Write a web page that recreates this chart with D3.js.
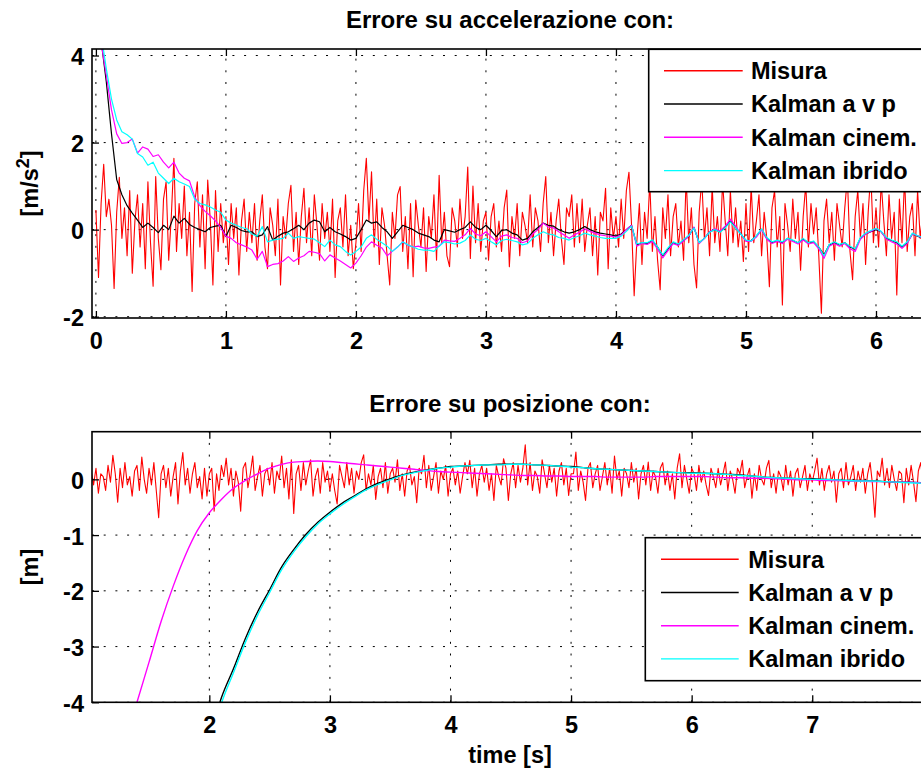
<!DOCTYPE html>
<html>
<head>
<meta charset="utf-8">
<script src="https://cdn.jsdelivr.net/npm/d3@7"></script>
<style>
  html, body { margin: 0; padding: 0; background: #fff; }
  text { font-family: "Liberation Sans", Arial, Helvetica, sans-serif; font-weight: bold; fill: #000; }
</style>
</head>
<body>
<svg id="fig" width="921" height="770"></svg>
<script>
// ---------------- Data ----------------
// Series names (legend order = drawing order)
const seriesNames = ["Misura", "Kalman a v p", "Kalman cinem.", "Kalman ibrido"];
const seriesColors = ["#ff0000", "#000000", "#ff00ff", "#00ffff"];

// Acceleration error: measurement sampled every 0.02 s from t = 0
const accMeasDt = 0.02;
const accMisura = [
  0.45, -1.1, 0.6, 1.5, 0.3, 0.7, 0.1, -1.35, 0.4, 1.2, -0.2, 0.5, -0.6, 0.9, -1.0, 0.2, 0.8, -0.4, 0.6, -0.9,
  1.1, -0.3, -1.3, 1.22, -0.2, -0.92, 0.7, 1.1, -0.7, 0.3, 1.64, -0.5, 0.6, -0.2, 1.0, -0.6, 0.4, -1.42, 0.6, 1.1,
  -0.4, 0.8, -0.9, 1.14, 0.2, -1.27, 0.9, -0.5, 0.6, -0.3,
  0.3, -0.8, 0.6, -0.2, 0.5, -1.04, 0.2, 0.7, -0.5, 0.4, -0.3, 0.6, -0.7, 0.2, 0.8, -0.4, -0.9, 0.5, 0.1, -0.6,
  0.7, -1.27, 0.3, -0.2, 0.6, 1.02, -0.5, 0.4, -0.8, 0.3, 0.95, -0.3, 0.5, -0.6, 0.8, 0.1, -0.7, 0.6, -0.2, 0.4,
  -0.5, 0.7, -1.1, 0.2, 0.5, -0.4, 0.8, -0.6, 0.1, -0.9,
  -0.3, 0.6, -0.5, 0.9, 1.64, 0.2, 1.33, -0.4, 0.7, -0.8, 0.5, 0.1, -0.6, -1.27, 0.4, -0.2, 0.8, 0.99, -0.5, 0.3,
  -0.9, 0.6, -1.08, 0.68, 0.1, -0.4, 0.5, -0.96, 0.3, -0.2, 0.8, -0.7, 1.25, -0.3, 0.4, -0.6, -0.85, 0.5, 0.2, -0.4,
  0.7, -0.2, 0.3, 1.44, -0.66, 1.0, -0.3, 0.6, -0.5, 0.2,
  0.4, -0.7, 0.3, 0.6, -0.4, 0.2, -0.5, 0.5, 0.91, -0.85, 0.3, -0.2, 0.6, -0.6, 0.4, 0.1, -0.3, 0.8, -0.4, 0.5,
  0.2, -0.5, 0.6, 1.22, -0.3, 0.4, -0.6, 0.2, 0.7, -0.2, -0.8, 0.5, 0.3, 0.8, -0.4, 0.6, -0.3, 0.7, -0.5, 0.1,
  0.5, -0.6, 0.3, -1.04, 0.4, 0.2, 0.95, -0.9, 0.5, -0.2,
  0.3, -0.4, 0.7, -0.2, 0.9, 1.32, 0.1, -1.52, -0.3, 0.6, -0.8, 0.4, -0.2, 1.1, -0.5, 0.3, -0.7, -1.38, 0.5, -0.2,
  0.8, -0.6, 0.3, 0.6, -0.4, 0.2, -0.7, 1.2, -0.3, 0.5, -0.8, -1.34, 0.4, 1.15, -0.2, 0.5, -0.6, 1.0, -0.3, 0.3,
  -0.5, 1.1, 0.2, -0.6, 0.9, -0.3, 0.5, -0.4, 0.2, -0.73,
  0.6, -0.5, 1.0, -0.3, 0.2, 0.8, -0.6, 0.4, -0.2, -1.31, 0.5, 0.9, -0.4, 0.3, -1.73, 0.6, 0.1, -0.5, 0.7, -0.2,
  0.4, -0.93, 0.3, 1.05, -0.4, 0.6, -0.1, 0.5, -0.6, -1.92, 0.2, 0.7, -0.3, 0.4, -0.7, 0.6, 0.1, -0.4, 0.5, 1.2,
  -0.5, -1.15, 0.3, 0.9, -0.2, 0.6, -0.8, 0.4, 1.3, -0.3,
  0.5, -0.4, 1.1, 0.2, -0.6, 0.8, -0.2, 0.4, -1.5, 0.7, -0.3, 1.2, -0.5, 0.3, 0.6, -0.6, 0.9, -0.2, 0.4
];

// Acceleration error: Kalman estimates sampled every 0.04 s from t = 0
const accKalDt = 0.04;
const accKalmanAVP = [
  5.0, 4.35, 3.4, 2.2, 1.15, 0.8, 0.55, 0.38, 0.22, 0.05,
  0.15, 0.05, -0.07, 0.1, 0.0, 0.31, 0.15, 0.26, 0.12, 0.05,
  0.0, -0.05, 0.05, 0.08, 0.1, -0.16, 0.1, 0.05, -0.02, -0.05,
  -0.05, -0.16, -0.12, 0.07, -0.24, -0.15, -0.08, -0.05, 0.02, 0.1,
  0.0, 0.15, 0.22, 0.18, -0.05, 0.05, -0.05, -0.1, -0.16, -0.24,
  -0.2, 0.0, 0.22, 0.15, 0.18, 0.05, -0.05, -0.2, -0.05, 0.1,
  0.05, 0.0, -0.08, -0.12, -0.16, -0.24, -0.28, 0.0, -0.03, -0.06,
  0.0, 0.05, 0.18, 0.05, 0.0, 0.1, -0.02, -0.16, -0.02, 0.0,
  -0.08, -0.12, -0.24, -0.2, -0.05, 0.05, 0.15, 0.1, 0.08, 0.0,
  -0.05, -0.08, -0.05, 0.0, 0.07, 0.0, -0.05, -0.08, -0.1, -0.12,
  -0.15, -0.1, 0.0, 0.1, -0.35, -0.3, -0.32, -0.25, -0.4, -0.6,
  -0.45, -0.3, -0.35, -0.25, -0.15, 0.05, -0.3, -0.2, -0.05, 0.0,
  -0.05, 0.05, 0.2, 0.05, -0.1, -0.25, -0.25, -0.15, 0.0, -0.2,
  -0.3, -0.25, -0.3, -0.2, -0.25, -0.3, -0.22, -0.3, -0.28, -0.4,
  -0.58, -0.35, -0.3, -0.35, -0.3, -0.4, -0.45, -0.2, -0.1, -0.05,
  0.0, -0.05, -0.2, -0.25, -0.3, -0.4, -0.3, -0.1, -0.15, -0.2
];
const accKalmanCinem = [
  5.0, 4.3, 3.55, 2.75, 2.2, 1.98, 2.0, 2.08, 1.76, 1.9,
  1.85, 1.68, 1.72, 1.55, 1.42, 1.55, 1.3, 1.18, 1.12, 0.75,
  0.55, 0.42, 0.32, 0.2, 0.05, -0.15, -0.2, -0.3, -0.35, -0.4,
  -0.47, -0.68, -0.5, -0.85, -0.8, -0.78, -0.72, -0.62, -0.73, -0.65,
  -0.6, -0.5, -0.52, -0.55, -0.72, -0.58, -0.65, -0.72, -0.8, -0.88,
  -0.77, -0.6, -0.4, -0.28, -0.36, -0.42, -0.6, -0.5, -0.4, -0.28,
  -0.36, -0.4, -0.38, -0.42, -0.43, -0.4, -0.38, -0.24, -0.26, -0.27,
  -0.2, -0.12, 0.03, -0.1, -0.14, -0.05, -0.16, -0.28, -0.15, -0.12,
  -0.18, -0.2, -0.3, -0.26, -0.1, 0.0, 0.15, 0.06, 0.04, -0.05,
  -0.12, -0.2, -0.12, -0.06, 0.02, -0.04, -0.08, -0.12, -0.14, -0.15,
  -0.17, -0.12, 0.0, 0.1, -0.38, -0.32, -0.34, -0.27, -0.45, -0.65,
  -0.48, -0.32, -0.36, -0.26, -0.15, 0.06, -0.32, -0.2, -0.05, 0.02,
  -0.03, 0.08, 0.24, 0.08, -0.1, -0.27, -0.27, -0.17, 0.0, -0.22,
  -0.32, -0.27, -0.32, -0.22, -0.27, -0.33, -0.24, -0.33, -0.3, -0.44,
  -0.66, -0.38, -0.32, -0.38, -0.32, -0.44, -0.5, -0.22, -0.1, -0.04,
  0.02, -0.05, -0.22, -0.28, -0.33, -0.43, -0.32, -0.1, -0.14, -0.2
];
const accKalmanIbrido = [
  5.2, 4.5, 3.7, 3.0, 2.52, 2.25, 2.18, 2.08, 1.75, 1.67,
  1.48, 1.55, 1.3, 1.18, 1.06, 1.18, 1.1, 1.05, 0.99, 0.7,
  0.6, 0.57, 0.52, 0.45, 0.4, 0.22, 0.15, 0.1, 0.05, 0.02,
  -0.1, -0.15, 0.07, -0.28, -0.24, -0.22, -0.2, -0.08, -0.2, -0.16,
  -0.18, -0.2, -0.22, -0.3, -0.39, -0.24, -0.35, -0.39, -0.5, -0.58,
  -0.5, -0.4, -0.2, -0.12, -0.22, -0.3, -0.38, -0.5, -0.4, -0.28,
  -0.35, -0.4, -0.45, -0.47, -0.47, -0.5, -0.38, -0.28, -0.3, -0.33,
  -0.31, -0.25, -0.12, -0.22, -0.25, -0.2, -0.28, -0.35, -0.25, -0.22,
  -0.25, -0.28, -0.35, -0.32, -0.2, -0.12, -0.05, -0.1, -0.12, -0.18,
  -0.2, -0.24, -0.18, -0.14, -0.08, -0.12, -0.15, -0.18, -0.2, -0.2,
  -0.2, -0.15, -0.04, 0.08, -0.33, -0.3, -0.3, -0.23, -0.4, -0.58,
  -0.42, -0.28, -0.33, -0.23, -0.13, 0.04, -0.3, -0.2, -0.06, 0.0,
  -0.06, 0.04, 0.18, 0.04, -0.1, -0.24, -0.26, -0.14, 0.02, -0.18,
  -0.28, -0.24, -0.28, -0.2, -0.24, -0.3, -0.2, -0.3, -0.26, -0.4,
  -0.6, -0.34, -0.28, -0.34, -0.3, -0.38, -0.44, -0.18, -0.08, -0.02,
  0.03, -0.04, -0.18, -0.24, -0.28, -0.38, -0.28, -0.08, -0.14, -0.18
];

// Position error: measurement sampled every 0.02 s from t = 1.02
const posMeasT0 = 1.02;
const posMeasDt = 0.02;
const posMisura = [
  0.15, -0.1, 0.2, -0.25, 0.1, 0.05, -0.2, 0.25, -0.05, 0.43, 0.1, -0.41, 0.2, -0.15, 0.3, -0.1, 0.05, -0.3, 0.15, 0.25,
  -0.2, 0.4, 0.0, -0.25, 0.2, -0.1, 0.3, -0.2, -0.69, 0.1, 0.25, -0.15, 0.2, -0.3, 0.05, 0.3, -0.44, 0.15, 0.48, -0.1,
  0.2, -0.25, 0.1, 0.3, -0.15, 0.05, -0.35, 0.2, -0.3, 0.1,
  0.2, -0.57, 0.1, -0.2, 0.25, 0.05, 0.38, -0.1, 0.2, -0.3, 0.15, -0.05, -0.57, 0.2, 0.3, -0.15, 0.1, 0.42, -0.2, 0.05,
  0.25, -0.3, 0.1, 0.2, -0.1, 0.3, -0.25, 0.15, 0.0, 0.42, -0.15, 0.2, -0.35, 0.35, -0.61, 0.1, 0.25, -0.2, 0.3, -0.1,
  0.15, 0.35, -0.3, 0.05, 0.2, -0.25, 0.3, -0.05, 0.15, -0.2,
  0.1, -0.2, -0.44, 0.25, 0.05, -0.15, 0.3, -0.1, 0.2, -0.25, 0.15, 0.0, 0.3, 0.44, -0.2, 0.1, -0.1, 0.25, -0.36, 0.05,
  0.2, -0.15, 0.3, -0.25, 0.1, 0.2, -0.05, 0.35, -0.2, 0.1, -0.3, 0.15, 0.25, -0.1, 0.05, -0.42, 0.2, 0.1, 0.43, -0.15,
  0.25, -0.2, 0.05, 0.3, -0.25, 0.15, 0.0, 0.25, -0.3, 0.1,
  0.2, -0.1, 0.15, -0.25, 0.05, 0.3, 0.1, 0.34, -0.15, 0.2, -0.3, 0.1, 0.25, -0.05, 0.2, -0.2, 0.1, -0.38, 0.25, 0.05,
  -0.1, 0.37, 0.2, -0.38, 0.1, 0.3, -0.15, 0.25, -0.05, 0.2, 0.62, -0.1, 0.3, -0.2, 0.15, 0.05, -0.25, 0.35, 0.1, -0.15,
  0.25, -0.05, 0.2, -0.3, 0.15, 0.3, -0.1, 0.2, -0.29, 0.1,
  0.1, 0.49, -0.2, 0.15, -0.05, -0.38, 0.2, 0.3, -0.15, 0.1, 0.25, -0.2, 0.05, 0.3, -0.1, 0.2, -0.25, 0.42, 0.0, 0.15,
  -0.3, 0.2, 0.1, -0.15, 0.3, -0.05, 0.2, -0.35, 0.1, 0.25, -0.1, 0.31, -0.2, 0.15, 0.05, -0.25, 0.2, 0.3, -0.1, 0.15,
  -0.2, 0.1, -0.35, 0.2, 0.46, -0.15, 0.25, 0.0, -0.25, 0.2,
  0.1, -0.2, 0.25, -0.05, 0.15, -0.1, -0.29, 0.2, 0.05, -0.15, 0.2, -0.1, 0.1, 0.31, -0.2, 0.15, 0.0, -0.25, 0.2, 0.1,
  0.34, -0.15, 0.05, 0.2, -0.34, 0.1, -0.2, 0.25, 0.0, -0.1, 0.2, 0.34, -0.15, 0.1, -0.25, 0.15, 0.05, -0.2, 0.25, -0.1,
  0.15, -0.3, 0.1, 0.2, -0.15, 0.05, 0.25, -0.2, 0.1, -0.05,
  0.15, 0.38, -0.1, 0.2, -0.2, 0.1, 0.25, -0.05, 0.15, -0.41, 0.1, 0.2, -0.15, 0.3, -0.1, 0.05, 0.25, -0.2, 0.15, -0.05,
  0.2, -0.25, 0.1, 0.3, -0.1, -0.68, 0.15, 0.05, 0.38, -0.1, 0.2, -0.15, 0.25, 0.0, -0.2, 0.15, 0.1, -0.42, 0.2, -0.1,
  0.25, -0.05, -0.4, 0.15, 0.3, -0.1, 0.2
];

// Position error: Kalman estimates at these sample times
const posKalTime = [
  1.3, 1.4, 1.5, 1.6, 1.7, 1.8, 1.9, 2.0, 2.1, 2.2,
  2.3, 2.4, 2.5, 2.6, 2.7, 2.8, 2.9, 3.0, 3.1, 3.2,
  3.3, 3.4, 3.5, 3.6, 3.7, 3.8, 3.9, 4.0, 4.1, 4.2,
  4.3, 4.4, 4.5, 4.6, 4.7, 4.8, 4.9, 5.0, 5.1, 5.2,
  5.3, 5.4, 5.5, 5.6, 5.7, 5.8, 5.9, 6.0, 6.1, 6.2,
  6.3, 6.4, 6.5, 6.6, 6.7, 6.8, 6.9, 7.0, 7.1, 7.2,
  7.3, 7.4, 7.5, 7.6, 7.7, 7.8, 7.9
];
const posKalmanAVP = [
  null, null, null, null, null, null, null, -4.65, -3.92, -3.4,
  -2.85, -2.38, -1.98, -1.57, -1.26, -0.99, -0.77, -0.59, -0.43, -0.3,
  -0.17, -0.07, 0.01, 0.08, 0.13, 0.17, 0.2, 0.23, 0.24, 0.25,
  0.26, 0.27, 0.27, 0.27, 0.26, 0.25, 0.24, 0.23, 0.21, 0.19,
  0.18, 0.17, 0.16, 0.15, 0.14, 0.13, 0.12, 0.12, 0.11, 0.1,
  0.09, 0.08, 0.06, 0.04, 0.03, 0.02, 0.01, 0.01, 0.0, -0.01,
  -0.02, -0.02, -0.03, -0.04, -0.05, -0.05, -0.06
];
const posKalmanCinem = [
  -4.75, -4.0, -3.28, -2.55, -1.92, -1.37, -0.92, -0.6, -0.36, -0.16,
  -0.02, 0.1, 0.2, 0.27, 0.31, 0.32, 0.33, 0.32, 0.3, 0.28,
  0.26, 0.24, 0.22, 0.2, 0.18, 0.16, 0.14, 0.13, 0.12, 0.11,
  0.1, 0.09, 0.08, 0.07, 0.07, 0.06, 0.06, 0.05, 0.05, 0.05,
  0.04, 0.04, 0.04, 0.04, 0.05, 0.05, 0.05, 0.05, 0.05, 0.04,
  0.03, 0.03, 0.02, 0.02, 0.01, 0.0, -0.01, -0.01, -0.02, -0.02,
  -0.03, -0.03, -0.04, -0.04, -0.05, -0.05, -0.06
];
const posKalmanIbrido = [
  null, null, null, null, null, null, null, -4.75, -4.02, -3.47,
  -2.92, -2.44, -2.03, -1.62, -1.3, -1.03, -0.8, -0.62, -0.46, -0.32,
  -0.19, -0.09, -0.01, 0.07, 0.12, 0.16, 0.2, 0.22, 0.24, 0.25,
  0.26, 0.26, 0.27, 0.27, 0.26, 0.25, 0.24, 0.22, 0.21, 0.19,
  0.18, 0.17, 0.16, 0.15, 0.14, 0.13, 0.12, 0.11, 0.11, 0.1,
  0.09, 0.07, 0.06, 0.04, 0.03, 0.02, 0.01, 0.0, 0.0, -0.01,
  -0.02, -0.03, -0.03, -0.04, -0.05, -0.06, -0.07
];

// Axis ticks
const accXTicks = [0, 1, 2, 3, 4, 5, 6];
const accYTicks = [-2, 0, 2, 4];
const posXTicks = [2, 3, 4, 5, 6, 7];
const posYTicks = [-4, -3, -2, -1, 0];

// ---------------- Drawing ----------------
const svg = d3.select("#fig");
svg.append("rect").attr("width", 921).attr("height", 770).attr("fill", "#fff");

const FS = 23.5;
const TICK = 7;
const tickLabel = d => String(d);   // plain hyphen-minus for negatives

function seriesPoints(times, values) {
  return values.map((v, i) => ({ t: times[i], v: v }));
}

function drawPanel(cfg) {
  const g = svg.append("g");
  const x = d3.scaleLinear().domain(cfg.xDomain).range([cfg.left, cfg.right]);
  const y = d3.scaleLinear().domain(cfg.yDomain).range([cfg.bottom, cfg.top]);

  g.append("rect")
    .attr("x", cfg.left).attr("y", cfg.top)
    .attr("width", cfg.right - cfg.left).attr("height", cfg.bottom - cfg.top)
    .attr("fill", "#fff");

  // dotted grid
  const grid = g.append("g").attr("stroke", "#000").attr("stroke-width", 1)
    .attr("stroke-dasharray", "2,9.7").attr("fill", "none");
  cfg.xTicks.forEach(v => {
    grid.append("line").attr("x1", x(v)).attr("x2", x(v))
      .attr("y1", cfg.bottom).attr("y2", cfg.top);
  });
  cfg.yTicks.forEach(v => {
    grid.append("line").attr("x1", cfg.left).attr("x2", cfg.right)
      .attr("y1", y(v)).attr("y2", y(v));
  });

  // data lines, clipped to the axes box
  const clipId = "clip-" + cfg.id;
  svg.append("defs").append("clipPath").attr("id", clipId)
    .append("rect")
    .attr("x", cfg.left).attr("y", cfg.top)
    .attr("width", cfg.right - cfg.left).attr("height", cfg.bottom - cfg.top);
  const plot = g.append("g").attr("clip-path", `url(#${clipId})`);
  cfg.series.forEach(s => {
    const line = d3.line()
      .defined(d => d.v !== null)
      .x(d => x(d.t)).y(d => y(d.v))
      .curve(s.smooth ? d3.curveMonotoneX : d3.curveLinear);
    plot.append("path")
      .datum(seriesPoints(s.times, s.values))
      .attr("fill", "none")
      .attr("stroke", s.color)
      .attr("stroke-width", s.width)
      .attr("stroke-linejoin", "round")
      .attr("d", line);
  });

  // axes with inward ticks on all four sides
  const axB = g.append("g").attr("transform", `translate(0,${cfg.bottom})`)
    .call(d3.axisBottom(x).tickValues(cfg.xTicks).tickFormat(tickLabel)
      .tickSizeInner(-TICK).tickSizeOuter(0).tickPadding(14));
  const axT = g.append("g").attr("transform", `translate(0,${cfg.top})`)
    .call(d3.axisTop(x).tickValues(cfg.xTicks).tickFormat("")
      .tickSizeInner(-TICK).tickSizeOuter(0));
  const axL = g.append("g").attr("transform", `translate(${cfg.left},0)`)
    .call(d3.axisLeft(y).tickValues(cfg.yTicks).tickFormat(tickLabel)
      .tickSizeInner(-TICK).tickSizeOuter(0).tickPadding(8));
  const axR = g.append("g").attr("transform", `translate(${cfg.right},0)`)
    .call(d3.axisRight(y).tickValues(cfg.yTicks).tickFormat("")
      .tickSizeInner(-TICK).tickSizeOuter(0));
  [axB, axT, axL, axR].forEach(a => {
    a.select(".domain").remove();
    a.selectAll(".tick line").attr("stroke", "#000").attr("stroke-width", 1.3);
    a.selectAll(".tick text")
      .attr("font-size", FS)
      .attr("font-family", '"Liberation Sans", Arial, Helvetica, sans-serif')
      .attr("font-weight", "bold")
      .attr("fill", "#000");
  });
  axL.selectAll(".tick text").attr("dy", "0.38em");
  axB.selectAll(".tick text").attr("dy", "0.71em");

  // axes box
  g.append("rect")
    .attr("x", cfg.left).attr("y", cfg.top)
    .attr("width", cfg.right - cfg.left).attr("height", cfg.bottom - cfg.top)
    .attr("fill", "none").attr("stroke", "#000").attr("stroke-width", 1.6);

  // title
  g.append("text")
    .attr("x", (cfg.left + cfg.right) / 2).attr("y", cfg.titleY)
    .attr("text-anchor", "middle").attr("font-size", 24)
    .text(cfg.title);

  // y label (rotated)
  const yl = g.append("text")
    .attr("transform", `translate(38,${(cfg.top + cfg.bottom) / 2}) rotate(-90)`)
    .attr("text-anchor", "middle").attr("font-size", FS);
  cfg.yLabel(yl);

  // legend
  const lg = cfg.legend;
  const legendG = g.append("g");
  legendG.append("rect")
    .attr("x", lg.x).attr("y", lg.y).attr("width", lg.w).attr("height", lg.h)
    .attr("fill", "#fff").attr("stroke", "#000").attr("stroke-width", 1.6);
  seriesNames.forEach((name, i) => {
    const cy = lg.row0 + i * lg.rowStep;
    legendG.append("line")
      .attr("x1", lg.lineX1).attr("x2", lg.lineX2).attr("y1", cy).attr("y2", cy)
      .attr("stroke", seriesColors[i]).attr("stroke-width", 1.4);
    legendG.append("text")
      .attr("x", lg.textX).attr("y", cy).attr("dy", "0.36em")
      .attr("font-size", FS)
      .text(name);
  });
  return { x, y, g };
}

const accTimesMeas = accMisura.map((_, i) => i * accMeasDt);
const accTimesKal = accKalmanAVP.map((_, i) => i * accKalDt);

drawPanel({
  id: "acc",
  left: 92, right: 928, top: 49, bottom: 318,
  xDomain: [-0.03, 6.4], yDomain: [-2.03, 4.15],
  xTicks: accXTicks, yTicks: accYTicks,
  title: "Errore su accelerazione con:", titleY: 28,
  yLabel: t => {
    t.append("tspan").text("[m/s");
    t.append("tspan").attr("font-size", 18).attr("dy", -9).text("2");
    t.append("tspan").attr("dy", 9).text("]");
  },
  series: [
    { times: accTimesMeas, values: accMisura, color: seriesColors[0], width: 1.1 },
    { times: accTimesKal, values: accKalmanAVP, color: seriesColors[1], width: 1.2 },
    { times: accTimesKal, values: accKalmanCinem, color: seriesColors[2], width: 1.2 },
    { times: accTimesKal, values: accKalmanIbrido, color: seriesColors[3], width: 1.2 }
  ],
  legend: { x: 648.7, y: 49.3, w: 290, h: 142.4, row0: 70.7, rowStep: 33.3,
            lineX1: 664, lineX2: 742.7, textX: 751 }
});

const posTimesMeas = posMisura.map((_, i) => posMeasT0 + i * posMeasDt);

drawPanel({
  id: "pos",
  left: 92, right: 928, top: 431.7, bottom: 702.3,
  xDomain: [1.027, 7.96], yDomain: [-4, 0.855],
  xTicks: posXTicks, yTicks: posYTicks,
  title: "Errore su posizione con:", titleY: 412,
  yLabel: t => { t.text("[m]"); },
  series: [
    { times: posTimesMeas, values: posMisura, color: seriesColors[0], width: 1.1 },
    { times: posKalTime, values: posKalmanAVP, color: seriesColors[1], width: 1.4, smooth: true },
    { times: posKalTime, values: posKalmanCinem, color: seriesColors[2], width: 1.4, smooth: true },
    { times: posKalTime, values: posKalmanIbrido, color: seriesColors[3], width: 1.4, smooth: true }
  ],
  legend: { x: 645.3, y: 537.7, w: 290, h: 143, row0: 559.3, rowStep: 33.2,
            lineX1: 661, lineX2: 738.7, textX: 748.3 }
});

// x label of the lower panel
svg.append("text")
  .attr("x", 510).attr("y", 763)
  .attr("text-anchor", "middle").attr("font-size", FS)
  .text("time [s]");
</script>
</body>
</html>
